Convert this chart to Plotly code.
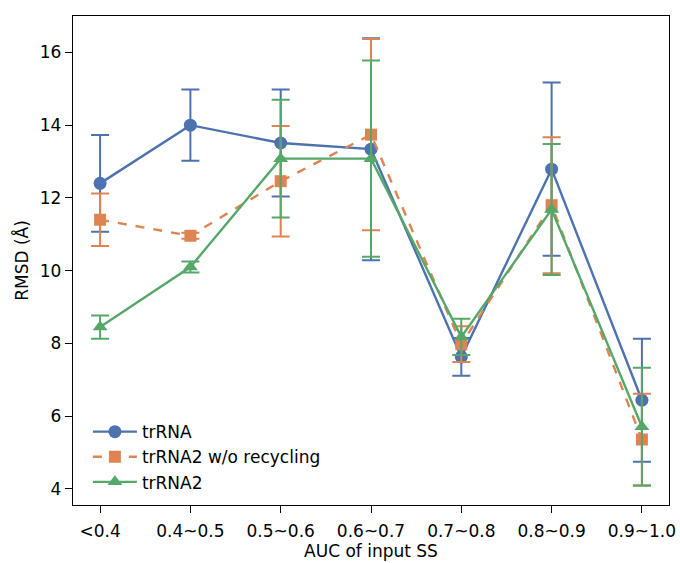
import plotly.graph_objects as go

categories = ["<0.4", "0.4~0.5", "0.5~0.6", "0.6~0.7", "0.7~0.8", "0.8~0.9", "0.9~1.0"]

trrna_mean = [12.40, 14.00, 13.51, 13.34, 7.63, 12.79, 6.44]
trrna_err = [1.33, 0.98, 1.47, 3.05, 0.52, 2.38, 1.69]

norecycle_mean = [11.40, 10.96, 12.46, 13.74, 7.98, 11.80, 5.36]
norecycle_err = [0.72, 0.08, 1.52, 2.63, 0.49, 1.87, 1.26]

trrna2_mean = [8.45, 10.10, 13.08, 13.08, 8.18, 11.68, 5.71]
trrna2_err = [0.32, 0.15, 1.62, 2.70, 0.50, 1.80, 1.62]

y_ticks = [4, 6, 8, 10, 12, 14, 16]

BLUE = "#4C72B0"
ORANGE = "#DD8452"
GREEN = "#55A868"
FONT = "DejaVu Sans, sans-serif"
FS = 17

x_idx = list(range(len(categories)))


def series(name, y, err, color, symbol, dash, size):
    return go.Scatter(
        x=x_idx, y=y, name=name, mode="lines+markers",
        line=dict(color=color, width=2.4, dash=dash),
        marker=dict(color=color, symbol=symbol, size=size),
        error_y=dict(type="data", array=err, visible=True,
                     color=color, thickness=2, width=9),
    )


fig = go.Figure()
fig.add_trace(series("trRNA", trrna_mean, trrna_err, BLUE, "circle", "solid", 13))
fig.add_trace(series("trRNA2 w/o recycling", norecycle_mean, norecycle_err,
                     ORANGE, "square", "dash", 12))
fig.add_trace(series("trRNA2", trrna2_mean, trrna2_err, GREEN, "triangle-up", "solid", 13))

axis_common = dict(
    showgrid=False, zeroline=False, showline=True, linecolor="black",
    linewidth=1.3, mirror=True, ticks="outside", ticklen=7, tickwidth=1.3,
    tickcolor="black", tickfont=dict(family=FONT, size=FS, color="black"),
    automargin=False,
)

fig.update_xaxes(
    **axis_common, tickmode="array", tickvals=x_idx, ticktext=categories,
    range=[-0.3, 6.3], ticklabelstandoff=3,
    title=dict(text="AUC of input SS", font=dict(family=FONT, size=FS, color="black"),
               standoff=4),
)
fig.update_yaxes(
    **axis_common, tickmode="array", tickvals=y_ticks,
    range=[3.56, 17.0],
    title=dict(text="RMSD (Å)", font=dict(family=FONT, size=FS, color="black"),
               standoff=6),
)

fig.update_layout(
    width=680, height=563,
    margin=dict(l=73, r=11, t=16, b=58),
    plot_bgcolor="white", paper_bgcolor="white",
    font=dict(family=FONT, size=FS, color="black"),
    legend=dict(x=0.025, y=0.01, xanchor="left", yanchor="bottom",
                bgcolor="rgba(255,255,255,0)", font=dict(family=FONT, size=FS),
                itemwidth=44, tracegroupgap=0),
)

fig.write_html("out.html")
